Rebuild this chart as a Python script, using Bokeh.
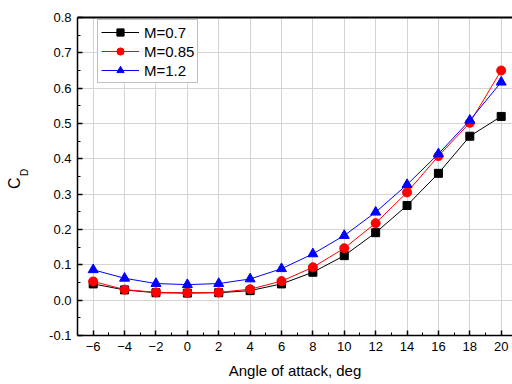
import math
from bokeh.plotting import figure
from bokeh.models import (FixedTicker, PrintfTickFormatter, LinearAxis,
                          Legend, LegendItem, Range1d)
from bokeh.embed import file_html
from bokeh.resources import INLINE

# data
angles = [-6, -4, -2, 0, 2, 4, 6, 8, 10, 12, 14, 16, 18, 20]
cd_m07 = [0.046, 0.029, 0.021, 0.020, 0.021, 0.027, 0.046, 0.079, 0.126, 0.191, 0.268, 0.359, 0.464, 0.520]
cd_m085 = [0.053, 0.030, 0.022, 0.021, 0.022, 0.031, 0.054, 0.093, 0.147, 0.218, 0.305, 0.408, 0.502, 0.650]
cd_m12 = [0.086, 0.062, 0.047, 0.044, 0.047, 0.060, 0.089, 0.131, 0.183, 0.249, 0.327, 0.414, 0.509, 0.617]
series_names = ["M=0.7", "M=0.85", "M=1.2"]
x_ticks = [-6, -4, -2, 0, 2, 4, 6, 8, 10, 12, 14, 16, 18, 20]
y_ticks = [-0.1, 0.0, 0.1, 0.2, 0.3, 0.4, 0.5, 0.6, 0.7, 0.8]

FONT = "Liberation Sans"
NBSP = "\u00a0"

p = figure(width=512, height=384, output_backend="svg", toolbar_location=None,
           x_range=Range1d(-7, 20.72), y_range=Range1d(-0.1, 0.8),
           min_border_left=77, min_border_right=0, min_border_top=17, min_border_bottom=49)
p.outline_line_color = None
p.background_fill_color = "white"

# grids
for g in (p.xgrid, p.ygrid):
    g.grid_line_color = "#d4d4d4"
    g.grid_line_width = 1

# tickers
p.xaxis.ticker = FixedTicker(ticks=x_ticks, minor_ticks=[x + 1 for x in x_ticks[:-1]] + [-5])
p.yaxis.ticker = FixedTicker(ticks=y_ticks, minor_ticks=[round(v + 0.05, 2) for v in y_ticks[:-1]])
p.yaxis.formatter = PrintfTickFormatter(format="%.1f")

for ax in (p.xaxis[0], p.yaxis[0]):
    ax.axis_line_color = "black"
    ax.axis_line_width = 1.5
    ax.major_tick_in = 5
    ax.major_tick_out = 0
    ax.minor_tick_in = 3
    ax.minor_tick_out = 0
    ax.major_tick_line_color = "black"
    ax.minor_tick_line_color = "black"
    ax.major_tick_line_width = 1.5
    ax.minor_tick_line_width = 1
    ax.major_label_text_font = FONT
    ax.major_label_text_font_size = "13px"
    ax.major_label_text_color = "black"
    ax.axis_label_text_color = "black"

p.xaxis.major_label_standoff = 6
p.yaxis.major_label_standoff = 6
p.xaxis.axis_label = "Angle of attack, deg"
p.xaxis.axis_label_text_font = FONT
p.xaxis.axis_label_text_font_size = "15px"
p.xaxis.axis_label_text_font_style = "normal"
p.xaxis.axis_label_standoff = 8

# subscript "D" of C_D as the label of the tick axis
p.yaxis.axis_label = NBSP * 3 + "D"
p.yaxis.axis_label_text_font = FONT
p.yaxis.axis_label_text_font_size = "10px"
p.yaxis.axis_label_text_font_style = "normal"
p.yaxis.axis_label_standoff = 16

# "C" of C_D as the label of an outer, empty axis
c_axis = LinearAxis(ticker=FixedTicker(ticks=[]), axis_line_color=None,
                    major_tick_in=0, major_tick_out=0, minor_tick_in=0, minor_tick_out=0,
                    axis_label="C" + NBSP * 3, axis_label_text_font=FONT,
                    axis_label_text_font_size="16px", axis_label_text_font_style="normal",
                    axis_label_text_color="black", axis_label_standoff=-6)
p.add_layout(c_axis, "left")

# top border as an axis without ticks
top = LinearAxis(ticker=FixedTicker(ticks=[]), axis_line_width=2, axis_line_color="black",
                 major_tick_in=0, major_tick_out=0, minor_tick_in=0, minor_tick_out=0)
p.add_layout(top, "above")

# series
r1l = p.line(angles, cd_m07, line_color="black", line_width=1)
r1m = p.scatter(angles, cd_m07, marker="square", size=8, fill_color="black", line_color="black")
r2l = p.line(angles, cd_m085, line_color="red", line_width=1)
r2m = p.scatter(angles, cd_m085, marker="circle", size=9, fill_color="red", line_color="red")
r3l = p.line(angles, cd_m12, line_color="blue", line_width=1)
r3m = p.scatter(angles, cd_m12, marker="triangle", size=10, fill_color="blue", line_color="blue")

legend = Legend(items=[
    LegendItem(label=series_names[0], renderers=[r1l, r1m]),
    LegendItem(label=series_names[1], renderers=[r2l, r2m]),
    LegendItem(label=series_names[2], renderers=[r3l, r3m]),
], location=(20, 252))
legend.label_text_font = FONT
legend.label_text_font_size = "15px"
legend.label_text_color = "black"
legend.glyph_width = 38
legend.glyph_height = 18
legend.label_height = 18
legend.spacing = 1
legend.padding = 3
legend.margin = 0
legend.label_standoff = 5
legend.border_line_color = "#808080"
legend.border_line_width = 1
legend.background_fill_alpha = 1
p.add_layout(legend, "center")

open("out.html", "w").write(file_html(p, INLINE))
